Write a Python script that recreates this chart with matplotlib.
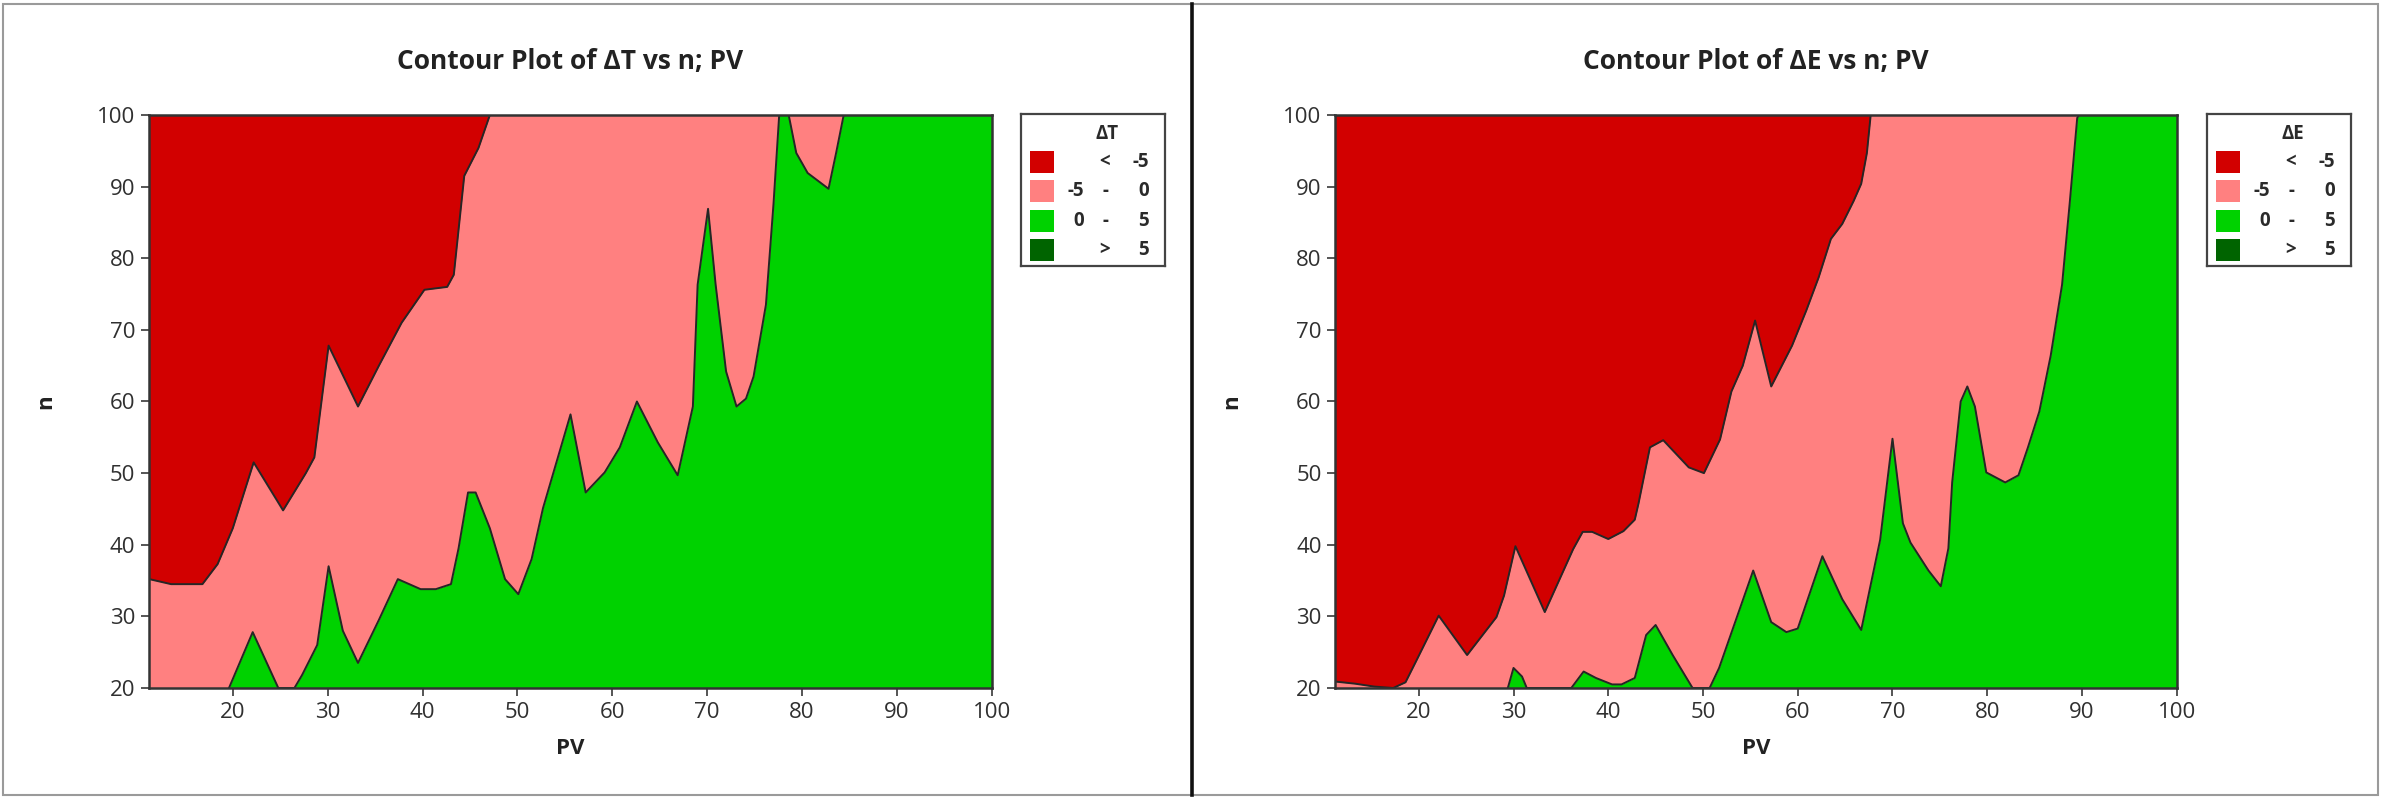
import numpy as np
import matplotlib
matplotlib.use("Agg")
import matplotlib.pyplot as plt
from matplotlib.patches import Rectangle
from matplotlib.lines import Line2D

# ---------------- data ----------------
x_min, x_max = 11.2, 100
y_min, y_max = 20, 100
x_ticks = [20, 30, 40, 50, 60, 70, 80, 90, 100]
y_ticks = [20, 30, 40, 50, 60, 70, 80, 90, 100]

levels = [-5, 0, 5]
level_colors = ["#D20000", "#FF8080", "#00D200", "#006400"]

# ΔT : contour line at -5 (above/left of it: < -5)
dT_m5_pv = [11.2, 13.5, 16.8, 18.4, 20.0, 22.2, 25.3, 27.7, 28.6, 30.1, 33.2, 35.4,
            37.8, 40.2, 42.6, 43.3, 44.4, 45.9, 47.1]
dT_m5_n = [35.2, 34.5, 34.5, 37.3, 42.3, 51.5, 44.8, 50.0, 52.2, 67.8, 59.3, 65.0,
           71.0, 75.6, 76.0, 77.7, 91.5, 95.4, 100.0]
# ΔT : contour line at 0 (below/right of it: 0 - 5)
dT_0_pv = [19.6, 22.1, 24.8, 26.5, 27.3, 28.9, 30.1, 31.6, 33.2, 35.4, 37.4, 39.8,
           41.4, 43.0, 43.8, 44.8, 45.6, 47.1, 48.7, 50.1, 51.5, 52.7, 55.6, 57.2,
           59.2, 60.8, 62.6, 64.8, 66.9, 68.5, 69.0, 70.1, 70.9, 72.0, 73.1, 74.1,
           74.9, 76.2, 77.0, 77.6, 78.6, 79.4, 80.6, 82.8, 83.6, 84.4, 100.0]
dT_0_n = [20.0, 27.8, 20.0, 20.0, 21.8, 26.0, 37.0, 28.0, 23.5, 29.5, 35.2, 33.8,
          33.8, 34.5, 39.5, 47.3, 47.3, 42.3, 35.2, 33.1, 38.0, 45.1, 58.2, 47.3,
          50.1, 53.6, 60.0, 54.3, 49.7, 59.3, 76.3, 86.9, 76.3, 64.2, 59.3, 60.4,
          63.5, 73.5, 87.6, 100.0, 100.0, 94.7, 91.9, 89.7, 94.7, 100.0, 100.0]

# ΔE : contour line at -5
dE_m5_pv = [11.2, 13.3, 15.3, 17.3, 18.6, 19.7, 22.1, 25.1, 28.2, 29.0, 30.2, 33.3,
            36.3, 37.3, 38.3, 40.0, 41.6, 42.8, 43.2, 44.4, 45.8, 48.5, 50.1, 51.8,
            53.0, 54.2, 55.5, 57.2, 59.4, 60.9, 62.2, 63.5, 64.7, 65.9, 66.7, 67.3,
            67.7]
dE_m5_n = [20.9, 20.6, 20.2, 20.0, 20.8, 23.7, 30.1, 24.6, 29.9, 32.9, 39.8, 30.6,
           39.4, 41.8, 41.8, 40.8, 41.9, 43.5, 45.8, 53.6, 54.6, 50.8, 50.0, 54.7,
           61.4, 65.0, 71.3, 62.1, 67.8, 72.7, 77.3, 82.7, 84.8, 88.0, 90.4, 94.7,
           100.0]
# ΔE : contour line at 0
dE_0_pv = [29.4, 30.0, 30.9, 31.4, 36.1, 37.4, 38.7, 40.4, 41.4, 42.8, 44.0, 45.0,
           46.8, 48.9, 50.7, 51.7, 55.3, 57.2, 58.8, 60.0, 62.6, 64.7, 66.7, 68.7,
           70.0, 71.1, 71.9, 73.8, 75.1, 75.9, 76.3, 77.2, 77.9, 78.7, 79.9, 81.9,
           83.3, 84.3, 85.5, 86.7, 87.9, 88.7, 89.5, 89.7, 100.0]
dE_0_n = [20.0, 22.8, 21.6, 20.0, 20.0, 22.3, 21.4, 20.5, 20.5, 21.4, 27.4, 28.8,
          24.6, 20.0, 20.0, 22.8, 36.4, 29.2, 27.8, 28.3, 38.4, 32.4, 28.1, 40.7,
          54.8, 43.0, 40.3, 36.4, 34.2, 39.5, 48.7, 60.0, 62.1, 59.3, 50.1, 48.7,
          49.7, 53.6, 58.6, 66.4, 76.3, 87.6, 99.6, 100.0, 100.0]

panels = [
    dict(title="Contour Plot of ΔT vs n; PV", var="ΔT",
         m5_pv=dT_m5_pv, m5_n=dT_m5_n, z_pv=dT_0_pv, z_n=dT_0_n),
    dict(title="Contour Plot of ΔE vs n; PV", var="ΔE",
         m5_pv=dE_m5_pv, m5_n=dE_m5_n, z_pv=dE_0_pv, z_n=dE_0_n),
]

# ---------------- layout (pixels) ----------------
W, H = 2386, 797
DPI = 100
FONT = ["Open Sans", "DejaVu Sans"]
plt.rcParams["font.family"] = FONT

fig = plt.figure(figsize=(W / DPI, H / DPI), dpi=DPI)
fig.patch.set_facecolor("white")

ax_boxes = [(149.3, 991.7), (1335.4, 2176.7)]
ax_top, ax_bot = 115, 688
leg_boxes = [(1021, 1165), (2207, 2351)]
leg_top, leg_bot = 114, 266


def fx(px):
    return px / W


def fy(py):
    return 1 - py / H


line_col = "#262626"
txt_col = "#2a2a2a"

for p, (l, r), (ll, lr) in zip(panels, ax_boxes, leg_boxes):
    ax = fig.add_axes([fx(l), fy(ax_bot), (r - l) / W, (ax_bot - ax_top) / H])
    ax.set_facecolor(level_colors[1])
    ax.fill_between(p["m5_pv"], p["m5_n"], y_max, color=level_colors[0], lw=0)
    ax.fill_between(p["z_pv"], y_min, p["z_n"], color=level_colors[2], lw=0)
    ax.plot(p["m5_pv"], p["m5_n"], color=line_col, lw=1.4)
    ax.plot(p["z_pv"], p["z_n"], color=line_col, lw=1.4)
    ax.set_xlim(x_min, x_max)
    ax.set_ylim(y_min, y_max)
    ax.set_xticks(x_ticks)
    ax.set_yticks(y_ticks)
    for s in ax.spines.values():
        s.set_color("#333333")
        s.set_linewidth(1.8)
    ax.tick_params(direction="out", length=6, width=1.4, color="#555555",
                   labelsize=16, labelcolor="#303030", pad=4)
    ax.set_xlabel("PV", fontsize=16, fontweight="bold", color="#222222")
    ax.set_ylabel("n", fontsize=16, fontweight="bold", color="#222222")
    ax.xaxis.set_label_coords(0.5, -(749 - ax_bot) / (ax_bot - ax_top))
    ax.xaxis.label.set_va("center")
    ax.yaxis.set_label_coords(-104 / (r - l), 0.5)
    ax.yaxis.label.set_va("center")
    fig.text(fx((l + r) / 2), fy(61), p["title"], ha="center", va="center",
             fontsize=19, fontweight="bold", color="#222222")

    # legend box
    lax = fig.add_axes([fx(ll), fy(leg_bot), (lr - ll) / W, (leg_bot - leg_top) / H])
    lw_, lh_ = lr - ll, leg_bot - leg_top
    lax.set_xlim(0, lw_)
    lax.set_ylim(lh_, 0)
    lax.set_xticks([])
    lax.set_yticks([])
    for s in lax.spines.values():
        s.set_color("#444444")
        s.set_linewidth(1.6)
    lax.text(lw_ / 2 + 14, 20, p["var"], ha="center", va="center", fontsize=13.5,
             fontweight="bold", color=txt_col)
    rows = [("", "<", f"{levels[0]}"),
            (f"{levels[0]}", "-", f"{levels[1]}"),
            (f"{levels[1]}", "-", f"{levels[2]}"),
            ("", ">", f"{levels[2]}")]
    for i, (c, (a, b, d)) in enumerate(zip(level_colors, rows)):
        yc = 48 + i * 29.3
        lax.add_patch(Rectangle((9, yc - 11), 24, 22, facecolor=c, edgecolor="none"))
        kw = dict(va="center", fontsize=13.5, fontweight="bold", color=txt_col)
        lax.text(63, yc, a, ha="right", **kw)
        lax.text(84, yc, b, ha="center", **kw)
        lax.text(128, yc, d, ha="right", **kw)

# outer border and divider
fig.patches.append(Rectangle((fx(3), fy(795)), fx(2378 - 3), (795 - 4) / H,
                             transform=fig.transFigure, fill=False,
                             edgecolor="#9a9a9a", lw=1.5))
fig.lines.append(Line2D([fx(1192), fx(1192)], [fy(4), fy(795)],
                        transform=fig.transFigure, color="#111111", lw=2.6))

fig.savefig("out.png", dpi=DPI)
